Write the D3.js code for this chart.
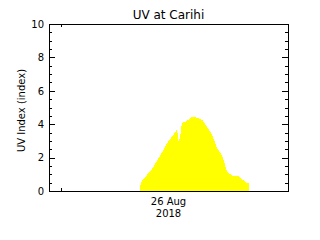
<!DOCTYPE html>
<html>
<head>
<meta charset="utf-8">
<script src="https://cdn.jsdelivr.net/npm/d3@7"></script>
<style>
    html, body { margin: 0; padding: 0; background: white; }
    text { font-family: "DejaVu Sans", sans-serif; fill: black; }
</style>
</head>
<body>
<div id="chart"></div>
<script>
// hours relative to 26 Aug 2018 00:00
const hours = [7.90, 8.12, 8.34, 8.55, 8.77, 8.99, 9.21, 9.42, 9.64, 9.86, 10.08, 10.29, 10.51, 10.73,
    10.95, 11.16, 11.38, 11.60, 11.82, 11.96, 12.03, 12.25, 12.44, 12.69, 12.90, 13.12, 13.34, 13.56,
    13.88, 14.21, 14.54, 14.75, 14.97, 15.19, 15.41, 15.62, 15.84, 16.06, 16.28, 16.49, 16.71,
    16.93, 17.15, 17.36, 17.58, 17.80, 18.02, 18.34, 18.67, 18.78, 19.00, 19.21, 19.43, 19.65, 19.76];
const uvValues = [0.3, 0.62, 0.72, 0.86, 1.06, 1.16, 1.3, 1.5, 1.7, 1.9, 2.1, 2.3, 2.5, 2.75,
    2.95, 3.1, 3.25, 3.4, 3.6, 3.7, 2.95, 3.15, 4.0, 4.15, 4.15, 4.25, 4.35, 4.45,
    4.45, 4.35, 4.3, 4.2, 4.0, 3.85, 3.65, 3.5, 3.2, 2.9, 2.55, 2.4, 2.25,
    1.95, 1.55, 1.2, 1.05, 1.0, 0.9, 0.9, 0.9, 0.8, 0.7, 0.62, 0.5, 0.5, 0.5];

const xDomain = [-2, 24];
const yDomain = [0, 10];
const yMajorTicks = [0, 2, 4, 6, 8, 10];
const yMinorTicks = d3.range(0, 10.01, 0.5);
const xTicks = [-0.69];
const dateLabelHour = 11;
const dateLabelLines = ["26 Aug", "2018"];
const title = "UV at Carihi";
const yTitle = "UV Index (index)";

const width = 320, height = 240;
const margin = { left: 49, right: 32, top: 24, bottom: 49 };

// Create the SVG container
const svg = d3.select("#chart")
    .append("svg")
    .attr("width", width)
    .attr("height", height);

const x = d3.scaleLinear().domain(xDomain).range([margin.left, width - margin.right]);
const y = d3.scaleLinear().domain(yDomain).range([height - margin.bottom, margin.top]);

const data = hours.map((h, i) => ({ h: h, v: uvValues[i] }));

// yellow filled area
const area = d3.area()
    .x(d => x(d.h))
    .y0(y(0))
    .y1(d => y(d.v));

svg.append("path")
    .datum(data)
    .attr("d", area)
    .attr("fill", "#ffff00")
    .attr("shape-rendering", "crispEdges");

// axes, ticks drawn inward
function styleAxis(g) {
    g.select(".domain").remove();
    g.selectAll("line").attr("stroke", "black").attr("shape-rendering", "crispEdges");
    g.selectAll("text").style("font-size", "10px").attr("fill", "black");
}

svg.append("g")
    .attr("transform", `translate(${margin.left},0)`)
    .call(d3.axisLeft(y).tickValues(yMajorTicks).tickSizeInner(-6).tickSizeOuter(0).tickPadding(5))
    .call(styleAxis);

svg.append("g")
    .attr("transform", `translate(${margin.left},0)`)
    .call(d3.axisLeft(y).tickValues(yMinorTicks).tickSizeInner(-3).tickSizeOuter(0).tickFormat(""))
    .call(styleAxis);

svg.append("g")
    .attr("transform", `translate(${width - margin.right},0)`)
    .call(d3.axisRight(y).tickValues(yMajorTicks).tickSizeInner(-6).tickSizeOuter(0).tickFormat(""))
    .call(styleAxis);

svg.append("g")
    .attr("transform", `translate(${width - margin.right},0)`)
    .call(d3.axisRight(y).tickValues(yMinorTicks).tickSizeInner(-3).tickSizeOuter(0).tickFormat(""))
    .call(styleAxis);

svg.append("g")
    .attr("transform", `translate(0,${height - margin.bottom})`)
    .call(d3.axisBottom(x).tickValues(xTicks).tickSizeInner(-3).tickSizeOuter(0).tickFormat(""))
    .call(styleAxis);

svg.append("g")
    .attr("transform", `translate(0,${margin.top})`)
    .call(d3.axisTop(x).tickValues(xTicks).tickSizeInner(-3).tickSizeOuter(0).tickFormat(""))
    .call(styleAxis);

// plot frame
svg.append("rect")
    .attr("x", margin.left + 0.5)
    .attr("y", margin.top + 0.5)
    .attr("width", width - margin.left - margin.right)
    .attr("height", height - margin.top - margin.bottom)
    .attr("fill", "none")
    .attr("stroke", "black");

// date label under the axis
svg.append("g")
    .selectAll("text")
    .data(dateLabelLines)
    .enter().append("text")
    .attr("x", x(dateLabelHour))
    .attr("y", (d, i) => height - margin.bottom + 14 + i * 12)
    .attr("text-anchor", "middle")
    .style("font-size", "10px")
    .text(d => d);

// titles
svg.append("text")
    .attr("x", x(dateLabelHour))
    .attr("y", 19)
    .attr("text-anchor", "middle")
    .style("font-size", "12px")
    .text(title);

svg.append("text")
    .attr("transform", `translate(25,${(y(0) + y(10)) / 2 + 3}) rotate(-90)`)
    .attr("text-anchor", "middle")
    .style("font-size", "10px")
    .text(yTitle);
</script>
</body>
</html>
